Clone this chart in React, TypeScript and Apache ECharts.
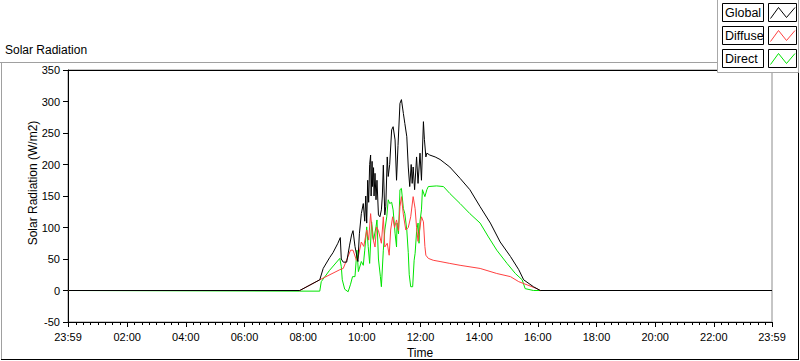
import React, { useEffect, useRef } from "react";
import * as echarts from "echarts";

const FONT = "'Liberation Sans', Arial, sans-serif";

// Global (black)
const globalTimes = [
  "00:00", "07:53", "08:34", "08:41", "08:54", "09:01", "09:11", "09:16", "09:18", "09:22",
  "09:29", "09:35", "09:39", "09:42", "09:46", "09:52", "09:55", "09:59", "10:03", "10:06",
  "10:08", "10:10", "10:12", "10:14", "10:16", "10:18", "10:19", "10:21", "10:22", "10:24",
  "10:25", "10:27", "10:29", "10:31", "10:34", "10:37", "10:40", "10:42", "10:44", "10:47",
  "10:49", "10:52", "10:54", "10:57", "11:01", "11:04", "11:08", "11:11", "11:14", "11:18",
  "11:21", "11:25", "11:28", "11:32", "11:35", "11:38", "11:41", "11:43", "11:45", "11:48",
  "11:52", "11:55", "11:59", "12:02", "12:06", "12:08", "12:11", "12:13", "12:19", "12:30",
  "12:40", "12:50", "13:00", "13:21", "13:41", "14:02", "14:23", "14:43", "15:04", "15:21",
  "15:31", "15:51", "16:05", "23:59",
];
const globalValues = [
  0, 0, 17, 35, 52, 60, 75, 84, 50, 45,
  45, 72, 88, 95, 70, 46, 90, 122, 138, 110,
  150, 107, 175, 140, 200, 215, 150, 205, 165, 195,
  150, 186, 144, 175, 120, 117, 128, 150, 199, 120,
  133, 212, 181, 200, 255, 260, 239, 175, 230, 297,
  303, 281, 265, 244, 196, 165, 200, 170, 196, 160,
  212, 170, 218, 175, 268, 240, 212, 218, 215, 212,
  208, 202, 196, 178, 160, 133, 107, 77, 54, 33,
  17, 6, 0, 0,
];

// Diffuse (red)
const diffuseTimes = [
  "00:00", "07:53", "08:34", "09:15", "09:22", "09:37", "09:42", "09:49", "09:52", "09:59",
  "10:04", "10:10", "10:14", "10:18", "10:22", "10:27", "10:30", "10:34", "10:40", "10:44",
  "10:47", "10:52", "10:56", "10:59", "11:03", "11:07", "11:11", "11:15", "11:18", "11:21",
  "11:25", "11:30", "11:35", "11:40", "11:45", "11:49", "11:52", "11:55", "12:02", "12:06",
  "12:09", "12:11", "12:16", "12:26", "12:40", "13:00", "13:21", "14:02", "14:36", "15:04",
  "15:21", "15:38", "15:58", "16:05", "23:59",
];
const diffuseValues = [
  0, 0, 17, 33, 35, 64, 64, 48, 51, 77,
  70, 96, 80, 122, 85, 69, 101, 95, 75, 117,
  69, 75, 56, 96, 117, 100, 112, 95, 133, 149,
  120, 96, 100, 117, 149, 130, 100, 78, 117, 109,
  70, 56, 51, 48, 46, 43, 40, 35, 27, 22,
  14, 9, 3, 0, 0,
];

// Direct (green)
const directTimes = [
  "00:00", "07:53", "08:34", "08:37", "08:54", "09:15", "09:18", "09:20", "09:25", "09:32",
  "09:37", "09:41", "09:46", "09:50", "09:53", "09:59", "10:03", "10:06", "10:10", "10:13",
  "10:16", "10:20", "10:24", "10:29", "10:31", "10:34", "10:38", "10:40", "10:44", "10:47",
  "10:51", "10:54", "10:57", "11:01", "11:04", "11:08", "11:11", "11:12", "11:15", "11:18",
  "11:21", "11:25", "11:28", "11:32", "11:35", "11:37", "11:40", "11:44", "11:47", "11:49",
  "11:52", "11:55", "11:57", "11:59", "12:02", "12:04", "12:09", "12:13", "12:16", "12:33",
  "12:47", "13:00", "13:21", "13:41", "14:02", "14:19", "14:36", "14:57", "15:14", "15:28",
  "15:34", "15:51", "23:59",
];
const directValues = [
  0, -1, -1, 14, 32, 51, 38, 17, 2, -2,
  10, 22, 22, 64, 30, 46, 40, 64, 101, 70,
  43, 109, 80, 101, 112, 50, 22, 6, 64, 96,
  117, 144, 138, 140, 128, 91, 69, 107, 90, 160,
  162, 130, 122, 96, 60, 25, 6, 6, 48, 59,
  93, 107, 75, 110, 128, 160, 149, 160, 165, 166,
  165, 154, 138, 122, 107, 85, 64, 43, 27, 17,
  3, 0, 0,
];

// X axis tick labels (minutes since midnight; -1 = 23:59 of the previous day)
const xTickMinutes = [-1, 120, 240, 360, 480, 600, 720, 840, 960, 1080, 1200, 1320, 1439];
const xTickLabels = ["23:59", "02:00", "04:00", "06:00", "08:00", "10:00", "12:00", "14:00", "16:00", "18:00", "20:00", "22:00", "23:59"];
const xMinorTickMinutes: number[] = [];
for (let m = 0; m < 1439; m += 15) xMinorTickMinutes.push(m);
xMinorTickMinutes.push(1439);

const legendNames = ["Global", "Diffuse", "Direct"];
const seriesColors = ["#000000", "#ff4040", "#00e400"];

const toMin = (t: string) => {
  const [h, m] = t.split(":").map(Number);
  return h * 60 + m;
};
const pairs = (times: string[], values: number[]) => times.map((t, i) => [toMin(t), values[i]]);

export default function App() {
  const ref = useRef<HTMLDivElement>(null);
  useEffect(() => {
    if (!ref.current) return;
    const chart = echarts.init(ref.current, null, { renderer: "svg" });

    const legendGraphics: any[] = [];
    legendNames.forEach((name, i) => {
      const dy = i * 23;
      legendGraphics.push(
        { type: "rect", shape: { x: 722.5, y: 3.5 + dy, width: 41, height: 18 }, style: { fill: "#fff", stroke: "#000", lineWidth: 1 }, z: 101 },
        { type: "text", x: 725, y: 12.5 + dy, style: { text: name, font: `12.5px ${FONT}`, fill: "#000", textAlign: "left", textVerticalAlign: "middle" }, z: 102 },
        { type: "rect", shape: { x: 768.5, y: 3.5 + dy, width: 28, height: 18 }, style: { fill: "#fff", stroke: "#000", lineWidth: 1 }, z: 101 },
        { type: "polyline", shape: { points: [[770.5, 18.5 + dy], [778.5, 7.5 + dy], [786.5, 17.5 + dy], [795, 7.5 + dy]] }, style: { stroke: seriesColors[i], lineWidth: 1, fill: null }, z: 102 }
      );
    });

    chart.setOption({
      animation: false,
      textStyle: { fontFamily: FONT },
      grid: {
        left: 68, top: 70, width: 704, height: 252,
        containLabel: false, outerBoundsMode: "none",
        show: true, borderColor: "#8c8c8c", borderWidth: 1, backgroundColor: "#fff",
      },
      xAxis: [
        {
          type: "value",
          min: -1,
          max: 1439,
          position: "bottom",
          axisLine: { show: true, onZero: false, lineStyle: { color: "#000", width: 1 } },
          axisTick: { show: true, customValues: xTickMinutes, length: 5, lineStyle: { color: "#000" } },
          axisLabel: {
            show: true,
            customValues: xTickMinutes,
            formatter: (v: number) => {
              const idx = xTickMinutes.indexOf(v);
              return idx >= 0 ? xTickLabels[idx] : "";
            },
            margin: 9,
            color: "#000",
            fontSize: 11,
            fontFamily: FONT,
          },
          splitLine: { show: false },
          name: "Time",
          nameLocation: "middle",
          nameGap: 22,
          nameTextStyle: { color: "#000", fontSize: 12, fontFamily: FONT },
        },
        {
          type: "value",
          min: -1,
          max: 1439,
          position: "bottom",
          axisLine: { show: false, onZero: false },
          axisTick: { show: true, customValues: xMinorTickMinutes, length: 3, lineStyle: { color: "#000" } },
          axisLabel: { show: false },
          splitLine: { show: false },
        },
      ],
      yAxis: {
        type: "value",
        min: -50,
        max: 350,
        interval: 50,
        axisLine: { show: true, onZero: false, lineStyle: { color: "#000", width: 1 } },
        axisTick: { show: true, length: 5, lineStyle: { color: "#000" } },
        axisLabel: { margin: 8, color: "#000", fontSize: 11, fontFamily: FONT },
        splitLine: { show: false },
      },
      series: [
        {
          name: "Direct",
          type: "line",
          data: pairs(directTimes, directValues),
          showSymbol: false,
          symbol: "none",
          lineStyle: { color: seriesColors[2], width: 1 },
          itemStyle: { color: seriesColors[2] },
          z: 2,
        },
        {
          name: "Diffuse",
          type: "line",
          data: pairs(diffuseTimes, diffuseValues),
          showSymbol: false,
          symbol: "none",
          lineStyle: { color: seriesColors[1], width: 1 },
          itemStyle: { color: seriesColors[1] },
          z: 3,
        },
        {
          name: "Global",
          type: "line",
          data: pairs(globalTimes, globalValues),
          showSymbol: false,
          symbol: "none",
          lineStyle: { color: seriesColors[0], width: 1 },
          itemStyle: { color: seriesColors[0] },
          z: 4,
        },
      ],
      graphic: [
        // outer frame
        { type: "line", shape: { x1: 0, y1: 62.5, x2: 717, y2: 62.5 }, style: { stroke: "#a0a0a0", lineWidth: 1 }, z: 50 },
        { type: "line", shape: { x1: 1.5, y1: 62, x2: 1.5, y2: 359 }, style: { stroke: "#a0a0a0", lineWidth: 1 }, z: 50 },
        { type: "line", shape: { x1: 1, y1: 359.5, x2: 799, y2: 359.5 }, style: { stroke: "#000", lineWidth: 1 }, z: 50 },
        { type: "line", shape: { x1: 798.5, y1: 72, x2: 798.5, y2: 360 }, style: { stroke: "#000", lineWidth: 1 }, z: 50 },
        // plot top border
        { type: "line", shape: { x1: 68, y1: 70.5, x2: 772, y2: 70.5 }, style: { stroke: "#000", lineWidth: 1 }, z: 50 },
        // title
        { type: "text", x: 5, y: 50, style: { text: "Solar Radiation", font: `12px ${FONT}`, fill: "#000", textAlign: "left", textVerticalAlign: "middle" }, z: 50 },
        // y axis name
        { type: "text", x: 33, y: 183, rotation: Math.PI / 2, style: { text: "Solar Radiation (W/m2)", font: `12px ${FONT}`, fill: "#000", textAlign: "center", textVerticalAlign: "middle" }, z: 50 },
        // legend panel
        { type: "rect", shape: { x: 717.5, y: -1, width: 81, height: 73.5 }, style: { fill: "#fff", stroke: "#a8a8a8", lineWidth: 1 }, z: 100 },
        ...legendGraphics,
      ],
    });
    return () => chart.dispose();
  }, []);
  return <div ref={ref} style={{ position: "absolute", left: 0, top: 0, width: 800, height: 361 }} />;
}
